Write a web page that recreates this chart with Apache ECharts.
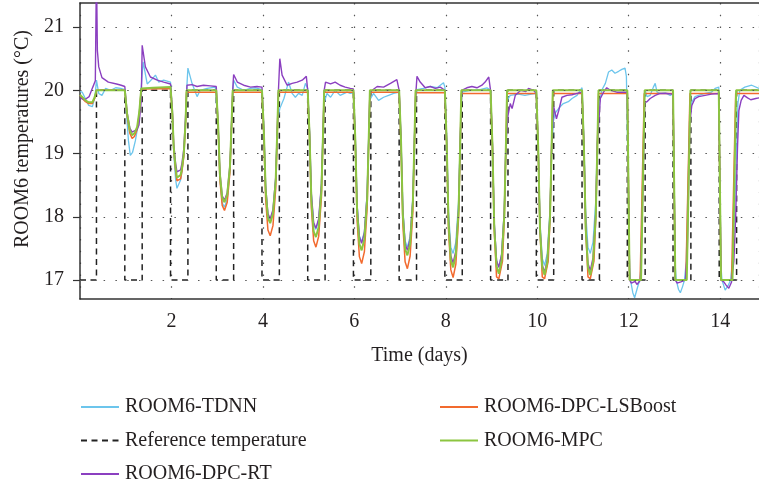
<!DOCTYPE html>
<html><head><meta charset="utf-8">
<script src="https://cdn.jsdelivr.net/npm/echarts@6.0.0/dist/echarts.min.js"></script>
<style>html,body{margin:0;padding:0;background:#fff}#chart{width:759px;height:492px}</style>
</head><body><div id="chart"></div>
<script>
// ---- data (time in days, temperature in °C) ----
const xTickValues = [2, 4, 6, 8, 10, 12, 14];
const yTickValues = [17, 18, 19, 20, 21];
const names = ['ROOM6-TDNN', 'Reference temperature', 'ROOM6-DPC-RT', 'ROOM6-DPC-LSBoost', 'ROOM6-MPC'];

const referenceTemp = [[0,17],[0.36,17],[0.36,20],[0.98,20],[0.98,17],[1.36,17],[1.36,20],[1.98,20],[1.98,17],[2.36,17],[2.36,20],[2.98,20],[2.98,17],[3.36,17],[3.36,20],[3.98,20],[3.98,17],[4.36,17],[4.36,20],[4.98,20],[4.98,17],[5.36,17],[5.36,20],[5.98,20],[5.98,17],[6.36,17],[6.36,20],[6.98,20],[6.98,17],[7.36,17],[7.36,20],[7.98,20],[7.98,17],[8.36,17],[8.36,20],[8.98,20],[8.98,17],[9.36,17],[9.36,20],[9.98,20],[9.98,17],[10.36,17],[10.36,20],[10.98,20],[10.98,17],[11.36,17],[11.36,20],[11.97,20],[11.97,17],[12.36,17],[12.36,20],[12.97,20],[12.97,17],[13.36,17],[13.36,20],[13.98,20],[13.98,17],[14.36,17],[14.36,20],[14.85,20]];

const mpc = [[0,19.93],[0.04,19.9],[0.12,19.84],[0.19,19.81],[0.27,19.81],[0.32,19.89],[0.36,20.0],[0.98,20.0],
[1.03,19.63],[1.09,19.37],[1.14,19.29],[1.19,19.32],[1.25,19.42],[1.30,19.68],[1.34,20.03],[1.6,20.04],[1.98,20.05],
[2.02,19.64],[2.05,19.1],[2.09,18.78],[2.12,18.62],[2.16,18.6],[2.2,18.66],[2.23,18.77],[2.27,19.0],[2.31,19.52],[2.33,20.0],[2.98,20.0],
[3.02,19.47],[3.06,18.67],[3.11,18.30],[3.16,18.23],[3.22,18.35],[3.28,18.80],[3.315,19.47],[3.34,20.0],[3.98,20.0],
[4.02,19.37],[4.06,18.43],[4.11,17.98],[4.16,17.90],[4.22,18.05],[4.28,18.57],[4.315,19.37],[4.34,20.0],[4.98,20.0],
[5.02,19.30],[5.06,18.26],[5.11,17.77],[5.16,17.68],[5.22,17.84],[5.28,18.42],[5.315,19.30],[5.34,20.0],[5.98,20.0],
[6.02,19.24],[6.06,18.10],[6.11,17.57],[6.16,17.47],[6.22,17.65],[6.28,18.28],[6.315,19.24],[6.34,20.0],[6.98,20.0],
[7.02,19.22],[7.06,18.04],[7.11,17.49],[7.16,17.39],[7.22,17.57],[7.28,18.23],[7.315,19.22],[7.34,20.0],[7.98,20.0],
[8.02,19.16],[8.06,17.90],[8.11,17.31],[8.16,17.20],[8.22,17.40],[8.28,18.10],[8.315,19.16],[8.34,20.0],[8.98,20.0],
[9.02,19.13],[9.06,17.83],[9.11,17.22],[9.16,17.10],[9.22,17.30],[9.28,18.03],[9.315,19.13],[9.34,20.0],[9.98,20.0],
[10.02,19.12],[10.06,17.81],[10.11,17.20],[10.16,17.08],[10.22,17.28],[10.28,18.01],[10.315,19.12],[10.34,20.0],[10.98,20.0],
[11.02,19.12],[11.06,17.81],[11.11,17.20],[11.16,17.08],[11.22,17.28],[11.28,18.01],[11.315,19.12],[11.34,20.0],[11.97,20.0],
[12.02,17.0],[12.27,17.0],[12.35,20.0],[12.97,20.0],
[13.02,17.0],[13.27,17.0],[13.35,20.0],[13.97,20.0],
[14.02,17.0],[14.27,17.0],[14.35,20.0],[14.85,20.0]];

const lsboost = [[0,19.92],[0.04,19.88],[0.12,19.82],[0.19,19.79],[0.27,19.79],[0.32,19.87],[0.36,20.0],[0.98,20.0],
[1.03,19.6],[1.09,19.32],[1.14,19.24],[1.19,19.27],[1.25,19.38],[1.30,19.65],[1.34,20.02],[1.98,20.03],
[2.02,19.62],[2.05,19.06],[2.09,18.73],[2.12,18.57],[2.16,18.55],[2.2,18.6],[2.23,18.72],[2.27,18.95],[2.31,19.48],[2.33,19.97],[2.98,19.97],
[3.02,19.43],[3.06,18.58],[3.11,18.18],[3.16,18.10],[3.22,18.23],[3.28,18.71],[3.315,19.43],[3.34,19.97],[3.98,19.97],
[4.02,19.31],[4.06,18.28],[4.11,17.79],[4.16,17.70],[4.22,17.86],[4.28,18.44],[4.315,19.31],[4.34,19.97],[4.98,19.97],
[5.02,19.26],[5.06,18.14],[5.11,17.62],[5.16,17.52],[5.22,17.69],[5.28,18.31],[5.315,19.26],[5.34,19.97],[5.98,19.97],
[6.02,19.18],[6.06,17.95],[6.11,17.37],[6.16,17.26],[6.22,17.45],[6.28,18.14],[6.315,19.18],[6.34,19.97],[6.98,19.97],
[7.02,19.15],[7.06,17.89],[7.11,17.29],[7.16,17.18],[7.22,17.38],[7.28,18.08],[7.315,19.15],[7.34,19.96],[7.98,19.96],
[8.02,19.11],[8.06,17.78],[8.11,17.16],[8.16,17.04],[8.22,17.25],[8.28,17.99],[8.315,19.11],[8.34,19.95],[8.98,19.95],
[9.02,19.11],[9.06,17.77],[9.11,17.05],[9.16,17.02],[9.2,17.05],[9.24,17.3],[9.28,17.97],[9.315,19.11],[9.34,19.95],[9.98,19.95],
[10.02,19.11],[10.06,17.77],[10.11,17.05],[10.16,17.02],[10.2,17.05],[10.24,17.3],[10.28,17.97],[10.315,19.11],[10.34,19.95],[10.98,19.95],
[11.02,19.11],[11.06,17.77],[11.11,17.05],[11.16,17.02],[11.2,17.05],[11.24,17.3],[11.28,17.97],[11.315,19.11],[11.34,19.95],[11.97,19.95],
[12.02,17.0],[12.25,17.0],[12.34,19.95],[12.97,19.95],
[13.02,17.0],[13.25,17.0],[13.34,19.95],[13.97,19.95],
[14.02,17.0],[14.25,17.0],[14.34,19.95],[14.85,19.95]];

const dpcRT = [[0,19.88],[0.1,19.85],[0.2,19.9],[0.28,20.05],[0.335,20.15],[0.36,21.9],[0.38,20.63],[0.41,20.37],[0.48,20.2],[0.62,20.13],[0.8,20.1],[0.9,20.08],[0.98,20.06],
[1.03,19.65],[1.09,19.4],[1.14,19.34],[1.19,19.36],[1.25,19.38],[1.29,19.45],[1.34,19.84],[1.36,20.71],[1.43,20.37],[1.54,20.21],[1.69,20.16],[1.83,20.13],[1.98,20.1],
[2.02,19.68],[2.05,19.15],[2.09,18.85],[2.12,18.71],[2.16,18.69],[2.2,18.74],[2.23,18.85],[2.27,19.07],[2.31,19.6],[2.34,20.08],[2.45,20.09],[2.56,20.06],[2.7,20.08],[2.85,20.07],[2.98,20.06],
[3.02,19.48],[3.06,18.70],[3.11,18.33],[3.16,18.26],[3.22,18.38],[3.28,18.82],[3.315,19.48],[3.34,20.0],[3.36,20.25],[3.44,20.13],[3.58,20.08],[3.73,20.05],[3.87,20.06],[3.98,20.05],
[4.02,19.39],[4.06,18.48],[4.11,18.05],[4.16,17.97],[4.22,18.11],[4.28,18.62],[4.315,19.39],[4.34,20.0],[4.37,20.5],[4.42,20.24],[4.53,20.08],[4.64,20.11],[4.75,20.13],[4.86,20.16],[4.95,20.22],[4.98,20.0],
[5.02,19.35],[5.06,18.37],[5.11,17.91],[5.16,17.82],[5.22,17.97],[5.28,18.52],[5.315,19.35],[5.34,20.0],[5.37,20.13],[5.48,20.1],[5.58,20.13],[5.69,20.08],[5.8,20.05],[5.91,20.03],[5.98,20.02],
[6.02,19.27],[6.06,18.19],[6.11,17.68],[6.16,17.58],[6.22,17.75],[6.28,18.35],[6.315,19.27],[6.34,19.98],[6.39,20.0],[6.5,20.06],[6.64,20.05],[6.79,20.11],[6.93,20.17],[6.98,20.0],
[7.02,19.24],[7.06,18.10],[7.11,17.57],[7.16,17.47],[7.22,17.65],[7.28,18.28],[7.315,19.24],[7.34,19.9],[7.37,20.22],[7.44,20.13],[7.55,20.04],[7.66,20.06],[7.77,20.03],[7.88,20.05],[7.98,20.0],
[8.02,19.18],[8.06,17.95],[8.11,17.38],[8.16,17.27],[8.22,17.46],[8.28,18.14],[8.315,19.18],[8.35,20.0],[8.46,20.04],[8.57,20.06],[8.68,20.04],[8.79,20.08],[8.86,20.13],[8.94,20.21],[8.98,19.99],
[9.02,19.16],[9.06,17.90],[9.11,17.31],[9.16,17.20],[9.22,17.40],[9.28,18.10],[9.315,19.16],[9.36,19.6],[9.41,19.79],[9.45,19.71],[9.52,19.92],[9.64,20.0],[9.75,19.98],[9.81,20.03],[9.92,20.0],[9.98,19.95],
[10.02,19.14],[10.06,17.84],[10.11,17.24],[10.16,17.12],[10.22,17.32],[10.28,18.04],[10.315,19.14],[10.36,19.74],[10.42,19.55],[10.47,19.68],[10.54,19.89],[10.65,19.92],[10.76,19.93],[10.87,19.95],[10.98,19.97],
[11.02,19.15],[11.06,17.86],[11.11,17.26],[11.16,17.15],[11.22,17.35],[11.28,18.06],[11.315,19.15],[11.38,19.87],[11.45,19.97],[11.52,20.04],[11.6,20.0],[11.74,19.97],[11.92,19.97],[11.97,19.97],
[12.02,17.0],[12.06,16.95],[12.1,16.92],[12.14,16.98],[12.18,16.93],[12.22,16.96],[12.26,17.0],[12.31,18.4],[12.35,19.8],[12.4,19.82],[12.47,19.87],[12.58,19.92],[12.69,19.95],[12.84,19.95],[12.97,19.94],
[13.02,17.0],[13.06,16.95],[13.1,16.94],[13.14,16.97],[13.18,16.95],[13.24,17.0],[13.28,17.4],[13.34,19.5],[13.38,19.76],[13.45,19.87],[13.53,19.9],[13.67,19.92],[13.81,19.94],[13.97,19.95],
[14.02,17.0],[14.08,16.97],[14.13,16.92],[14.19,16.87],[14.25,16.97],[14.3,17.3],[14.34,18.0],[14.38,19.1],[14.41,19.68],[14.46,19.84],[14.52,19.92],[14.6,19.88],[14.67,19.85],[14.78,19.87],[14.85,19.88]];

const tdnn = [[0,19.98],[0.05,19.97],[0.19,19.76],[0.27,19.74],[0.33,19.9],[0.36,20.16],[0.41,19.95],[0.48,19.92],[0.56,20.03],[0.67,20.0],[0.78,20.04],[0.89,20.03],[0.98,20.01],
[1.02,19.6],[1.06,19.2],[1.1,18.97],[1.15,19.02],[1.21,19.2],[1.27,19.45],[1.32,19.85],[1.38,20.45],[1.47,20.1],[1.58,20.18],[1.65,20.24],[1.72,20.13],[1.83,20.16],[1.98,20.13],
[2.02,19.6],[2.05,19.0],[2.09,18.6],[2.12,18.45],[2.16,18.47],[2.2,18.58],[2.23,18.72],[2.27,18.98],[2.31,19.55],[2.34,20.1],[2.36,20.35],[2.45,20.11],[2.56,19.9],[2.63,20.0],[2.78,20.03],[2.96,20.05],[2.98,20.04],
[3.02,19.45],[3.06,18.61],[3.11,18.22],[3.16,18.15],[3.22,18.28],[3.28,18.74],[3.315,19.45],[3.34,19.95],[3.36,20.16],[3.44,20.05],[3.58,20.0],[3.73,20.03],[3.84,20.04],[3.98,20.01],
[4.02,19.39],[4.06,18.46],[4.11,18.03],[4.16,17.95],[4.22,18.09],[4.28,18.61],[4.315,19.39],[4.34,19.6],[4.37,19.71],[4.46,19.87],[4.56,20.13],[4.64,19.95],[4.71,19.89],[4.78,19.95],[4.86,19.92],[4.93,20.11],[4.98,20.03],
[5.02,19.34],[5.06,18.35],[5.11,17.89],[5.16,17.80],[5.22,17.95],[5.28,18.50],[5.315,19.34],[5.34,19.8],[5.4,19.95],[5.48,19.89],[5.58,20.0],[5.69,19.92],[5.84,19.97],[5.91,19.95],[5.98,19.96],
[6.02,19.28],[6.06,18.20],[6.11,17.70],[6.16,17.60],[6.22,17.77],[6.28,18.37],[6.315,19.28],[6.34,19.85],[6.42,19.95],[6.53,19.84],[6.64,19.89],[6.75,19.92],[6.86,19.95],[6.98,19.97],
[7.02,19.26],[7.06,18.14],[7.11,17.62],[7.16,17.52],[7.22,17.69],[7.28,18.31],[7.315,19.26],[7.34,19.9],[7.37,20.01],[7.51,20.03],[7.66,20.06],[7.81,20.04],[7.95,20.12],[7.98,20.05],
[8.02,19.23],[8.06,18.07],[8.11,17.52],[8.16,17.42],[8.22,17.60],[8.28,18.25],[8.315,19.23],[8.35,19.97],[8.53,20.0],[8.75,20.01],[8.9,20.04],[8.98,20.0],
[9.02,19.16],[9.06,17.90],[9.11,17.31],[9.16,17.20],[9.22,17.40],[9.28,18.10],[9.315,19.16],[9.35,19.85],[9.41,19.92],[9.59,19.94],[9.73,19.92],[9.87,19.94],[9.98,19.95],
[10.02,19.17],[10.06,17.92],[10.11,17.34],[10.16,17.23],[10.22,17.42],[10.28,18.12],[10.315,19.0],[10.35,19.5],[10.39,19.64],[10.5,19.74],[10.57,19.79],[10.68,19.82],[10.76,19.87],[10.87,19.92],[10.94,20.0],[10.98,20.04],
[11.02,19.23],[11.06,18.07],[11.11,17.52],[11.16,17.42],[11.22,17.60],[11.28,18.25],[11.315,19.23],[11.36,19.8],[11.41,20.0],[11.49,20.11],[11.56,20.29],[11.63,20.32],[11.7,20.27],[11.78,20.3],[11.85,20.33],[11.92,20.35],[11.95,20.22],
[11.98,19.0],[12.02,17.2],[12.04,17.0],[12.09,16.8],[12.13,16.72],[12.18,16.85],[12.24,17.0],[12.27,17.2],[12.34,19.8],[12.36,20.0],[12.4,19.9],[12.47,19.92],[12.54,20.05],[12.58,20.11],[12.62,19.97],[12.69,19.95],[12.8,19.96],[12.91,19.92],[12.97,19.95],
[13.02,17.2],[13.04,17.0],[13.09,16.85],[13.13,16.8],[13.18,16.9],[13.22,17.0],[13.26,17.3],[13.33,19.5],[13.38,19.81],[13.45,19.9],[13.53,19.92],[13.67,19.95],[13.81,19.97],[13.89,20.03],[13.97,20.05],
[14.02,17.2],[14.04,17.0],[14.11,16.84],[14.18,16.92],[14.23,17.0],[14.28,17.4],[14.35,18.8],[14.39,19.8],[14.43,20.0],[14.54,20.05],[14.69,20.08],[14.85,20.03]];

// ---- chart ----
const FONT = '"Liberation Serif", "Times New Roman", serif';
const FS = 20;
const TXT = '#231f20';
const chart = echarts.init(document.getElementById('chart'), null, {renderer: 'canvas'});
const gridDots = {color: '#555', width: 1.2, type: [1.5, 10.3]};

function lineSeries(name, data, color, width, extra) {
  return Object.assign({
    name: name, type: 'line', data: data, showSymbol: false, symbol: 'none',
    lineStyle: {color: color, width: width}, itemStyle: {color: color},
    animation: false, clip: true
  }, extra || {});
}

const legendCommon = {
  orient: 'vertical', top: 397, padding: 0, itemWidth: 38, itemHeight: 20, itemGap: 13.5,
  height: 120, selectedMode: false,
  itemStyle: {opacity: 0, borderWidth: 0},
  textStyle: {color: TXT, fontFamily: FONT, fontSize: FS, lineHeight: 20, padding: [0, 0, 0, 1]}
};

chart.setOption({
  animation: false,
  backgroundColor: '#fff',
  grid: {left: 80, right: 0, top: 3, bottom: 193, containLabel: false},
  xAxis: [{
    type: 'value', min: 0, max: 14.85, interval: 2,
    axisLine: {show: true, lineStyle: {color: '#333', width: 1.5}},
    axisTick: {show: false},
    axisLabel: {show: true, customValues: xTickValues, color: TXT, fontFamily: FONT, fontSize: FS, margin: 13},
    splitLine: {show: true, lineStyle: gridDots},
    name: 'Time (days)', nameLocation: 'middle', nameGap: 47,
    nameTextStyle: {color: TXT, fontFamily: FONT, fontSize: FS}
  }, {
    type: 'value', position: 'top', min: 0, max: 14.85,
    axisLine: {show: true, onZero: false, lineStyle: {color: '#333', width: 1.5}},
    axisTick: {show: false}, axisLabel: {show: false}, splitLine: {show: false}
  }],
  yAxis: {
    type: 'value', min: 16.7, max: 21.38,
    axisLine: {show: true, onZero: false, lineStyle: {color: '#333', width: 1.5}},
    axisTick: {show: true, inside: false, length: 7, customValues: yTickValues, lineStyle: {color: '#333', width: 1.2}},
    axisLabel: {show: true, customValues: yTickValues, color: TXT, fontFamily: FONT, fontSize: FS, margin: 16},
    splitLine: {show: false}
  },
  graphic: [{
    type: 'text', x: 23, y: 139, rotation: Math.PI / 2,
    style: {text: 'ROOM6 temperatures (°C)', fill: TXT, font: FS + 'px ' + FONT, textAlign: 'center', textVerticalAlign: 'middle'}
  }],
  legend: [
    Object.assign({}, legendCommon, {left: 80, data: [names[0], names[1], names[2]]}),
    Object.assign({}, legendCommon, {left: 439, data: [names[3], names[4]]})
  ],
  series: [
    lineSeries(names[1], referenceTemp, '#222', 1.5, {
      lineStyle: {color: '#222', width: 1.5, type: [6, 4.5]},
      markLine: {
        silent: true, symbol: 'none', label: {show: false}, animation: false,
        lineStyle: gridDots,
        data: yTickValues.map(v => ({yAxis: v}))
      }
    }),
    lineSeries(names[0], tdnn, '#6cc5ec', 1.3),
    lineSeries(names[3], lsboost, '#f26a2e', 1.5),
    lineSeries(names[2], dpcRT, '#8b3fc0', 1.4),
    lineSeries(names[4], mpc, '#8cc540', 2)
  ]
});
</script></body></html>
